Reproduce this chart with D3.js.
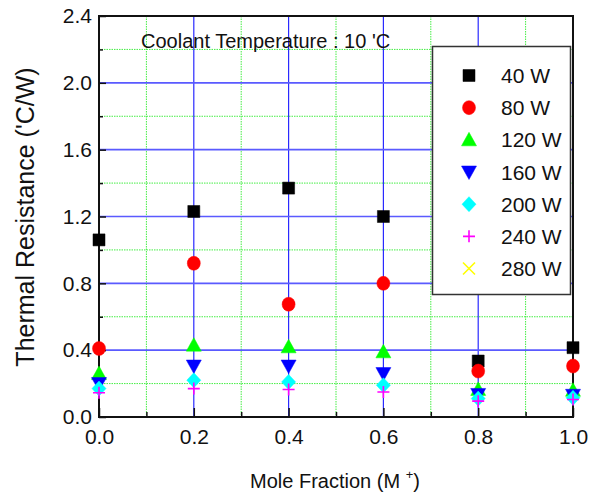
<!DOCTYPE html>
<html>
<head>
<meta charset="utf-8">
<script src="https://cdn.jsdelivr.net/npm/d3@7"></script>
<style>
  html, body { margin: 0; padding: 0; background: #fff; }
  svg { display: block; font-family: "Liberation Sans", Arial, sans-serif; }
</style>
</head>
<body>
<svg id="chart" width="601" height="498"></svg>
<script>
// Mole fraction of M+ (x positions)
const moleFraction = [0.0, 0.2, 0.4, 0.6, 0.8, 1.0];

// Thermal resistance ('C/W) per heat load
const r40W  = [1.06, 1.23, 1.37, 1.20, 0.335, 0.415];
const r80W  = [0.41, 0.92, 0.675, 0.80, 0.275, 0.305];
const r120W = [0.26, 0.43, 0.42, 0.39, 0.165, 0.16];
const r160W = [0.20, 0.305, 0.305, 0.26, 0.135, 0.13];
const r200W = [0.17, 0.22, 0.21, 0.19, 0.11, 0.115];
const r240W = [0.145, 0.17, 0.165, 0.15, 0.095, 0.105];
const r280W = [null, null, null, null, null, null];

const seriesNames = ["40 W", "80 W", "120 W", "160 W", "200 W", "240 W", "280 W"];
const seriesValues = [r40W, r80W, r120W, r160W, r200W, r240W, r280W];

const xTicks = [0.0, 0.2, 0.4, 0.6, 0.8, 1.0];
const yTicks = [0.0, 0.4, 0.8, 1.2, 1.6, 2.0, 2.4];

const titleText = "Coolant Temperature : 10 'C";

// marker style per series
const markers = [
  { shape: "square",   color: "#000000" },
  { shape: "circle",   color: "#ff0000" },
  { shape: "triUp",    color: "#00ff00" },
  { shape: "triDown",  color: "#0000ff" },
  { shape: "diamond",  color: "#00ffff" },
  { shape: "plus",     color: "#ff00ff" },
  { shape: "cross",    color: "#ffff00" }
];

function markerPath(shape) {
  switch (shape) {
    case "square":  return "M-6,-6H6V6H-6Z";
    case "circle":  return "M-6.5,0A6.5,7 0 1,0 6.5,0A6.5,7 0 1,0 -6.5,0Z";
    case "triUp":   return "M0,-7.5L7.5,6L-7.5,6Z";
    case "triDown": return "M0,7.5L7.5,-6L-7.5,-6Z";
    case "diamond": return "M0,-7.5L7,0L0,7.5L-7,0Z";
    case "plus":    return "M-6,0H6M0,-6V6";
    case "cross":   return "M-6,-6L6,6M6,-6L-6,6";
  }
}
const strokeOnly = s => s === "plus" || s === "cross";

const svg = d3.select("#chart");
const plot = { left: 99, right: 573, top: 16, bottom: 417 };

const x = d3.scaleLinear().domain([0, 1]).range([plot.left, plot.right]);
const y = d3.scaleLinear().domain([0, 2.4]).range([plot.bottom, plot.top]);

// grid: minor green dotted, major blue solid
const g = svg.append("g");
const xMinor = d3.range(1, 10, 2).map(i => i / 10);
const yMinor = d3.range(1, 12, 2).map(i => i / 5);
g.selectAll(".vminor").data(xMinor).join("line")
  .attr("x1", d => x(d)).attr("x2", d => x(d))
  .attr("y1", plot.top).attr("y2", plot.bottom)
  .attr("stroke", "#44ee44").attr("stroke-width", 1).attr("stroke-dasharray", "1.5,1");
g.selectAll(".hminor").data(yMinor).join("line")
  .attr("x1", plot.left).attr("x2", plot.right)
  .attr("y1", d => y(d)).attr("y2", d => y(d))
  .attr("stroke", "#44ee44").attr("stroke-width", 1).attr("stroke-dasharray", "1.5,1");
g.selectAll(".vmajor").data(xTicks.slice(1, -1)).join("line")
  .attr("x1", d => x(d)).attr("x2", d => x(d))
  .attr("y1", plot.top).attr("y2", plot.bottom)
  .attr("stroke", "#2a2aff").attr("stroke-width", 1.2);
g.selectAll(".hmajor").data(yTicks.slice(1, -1)).join("line")
  .attr("x1", plot.left).attr("x2", plot.right)
  .attr("y1", d => y(d)).attr("y2", d => y(d))
  .attr("stroke", "#5a5aff").attr("stroke-width", 1.6);

// frame
svg.append("rect")
  .attr("x", plot.left).attr("y", plot.top)
  .attr("width", plot.right - plot.left).attr("height", plot.bottom - plot.top)
  .attr("fill", "none").attr("stroke", "#111").attr("stroke-width", 2);

// axes (ticks pointing inward)
const xAxis = d3.axisBottom(x).tickValues(xTicks).tickFormat(d3.format(".1f"))
  .tickSizeInner(-9).tickSizeOuter(0).tickPadding(12);
svg.append("g").attr("transform", `translate(0,${plot.bottom})`).call(xAxis);
const xMinorAxis = d3.axisBottom(x).tickValues(xMinor).tickFormat("").tickSizeInner(-5).tickSizeOuter(0);
svg.append("g").attr("transform", `translate(0,${plot.bottom})`).call(xMinorAxis);

const yAxis = d3.axisLeft(y).tickValues(yTicks).tickFormat(d3.format(".1f"))
  .tickSizeInner(-7).tickSizeOuter(0).tickPadding(7);
svg.append("g").attr("transform", `translate(${plot.left},0)`).call(yAxis);
const yMinorAxis = d3.axisLeft(y).tickValues(yMinor).tickFormat("").tickSizeInner(-4).tickSizeOuter(0);
svg.append("g").attr("transform", `translate(${plot.left},0)`).call(yMinorAxis);

svg.selectAll(".domain").remove();
svg.selectAll(".tick line").attr("stroke", "#111").attr("stroke-width", 1.5);
svg.selectAll(".tick text").attr("font-size", 21).attr("fill", "#111")
  .attr("font-family", "Liberation Sans, Arial, sans-serif");

// title inside plot
svg.append("text").attr("x", 141).attr("y", 48)
  .attr("font-size", 20).attr("fill", "#111").text(titleText);

// axis titles
const xl = svg.append("text").attr("x", 335).attr("y", 488)
  .attr("text-anchor", "middle").attr("font-size", 20).attr("fill", "#111");
xl.append("tspan").text("Mole Fraction (M ");
xl.append("tspan").attr("font-size", 13).attr("dy", -9).text("+");
xl.append("tspan").attr("dy", 9).text(")");

svg.append("text")
  .attr("transform", "translate(34,217) rotate(-90)")
  .attr("text-anchor", "middle").attr("font-size", 25).attr("fill", "#111")
  .text("Thermal Resistance ('C/W)");

// markers
seriesValues.forEach((vals, i) => {
  const m = markers[i];
  const pts = vals.map((v, j) => ({ x: moleFraction[j], v })).filter(p => p.v != null);
  svg.append("g").selectAll("path").data(pts).join("path")
    .attr("transform", p => `translate(${x(p.x)},${y(p.v)})`)
    .attr("d", markerPath(m.shape))
    .attr("fill", strokeOnly(m.shape) ? "none" : m.color)
    .attr("stroke", m.color)
    .attr("stroke-width", strokeOnly(m.shape) ? 1.6 : 0.5);
});

// legend
const lg = svg.append("g");
lg.append("rect").attr("x", 432.5).attr("y", 46.5).attr("width", 138).attr("height", 248)
  .attr("fill", "#fff").attr("stroke", "#333").attr("stroke-width", 1.5);
const rowY = d3.scaleLinear().domain([0, 6]).range([75.5, 268.5]);
seriesNames.forEach((name, i) => {
  const m = markers[i];
  lg.append("path")
    .attr("transform", `translate(469,${rowY(i)})`)
    .attr("d", markerPath(m.shape))
    .attr("fill", strokeOnly(m.shape) ? "none" : m.color)
    .attr("stroke", m.color)
    .attr("stroke-width", strokeOnly(m.shape) ? 1.6 : 0.5);
  lg.append("text").attr("x", 501).attr("y", rowY(i)).attr("dy", "0.36em")
    .attr("font-size", 21).attr("fill", "#111").text(name);
});
</script>
</body>
</html>
